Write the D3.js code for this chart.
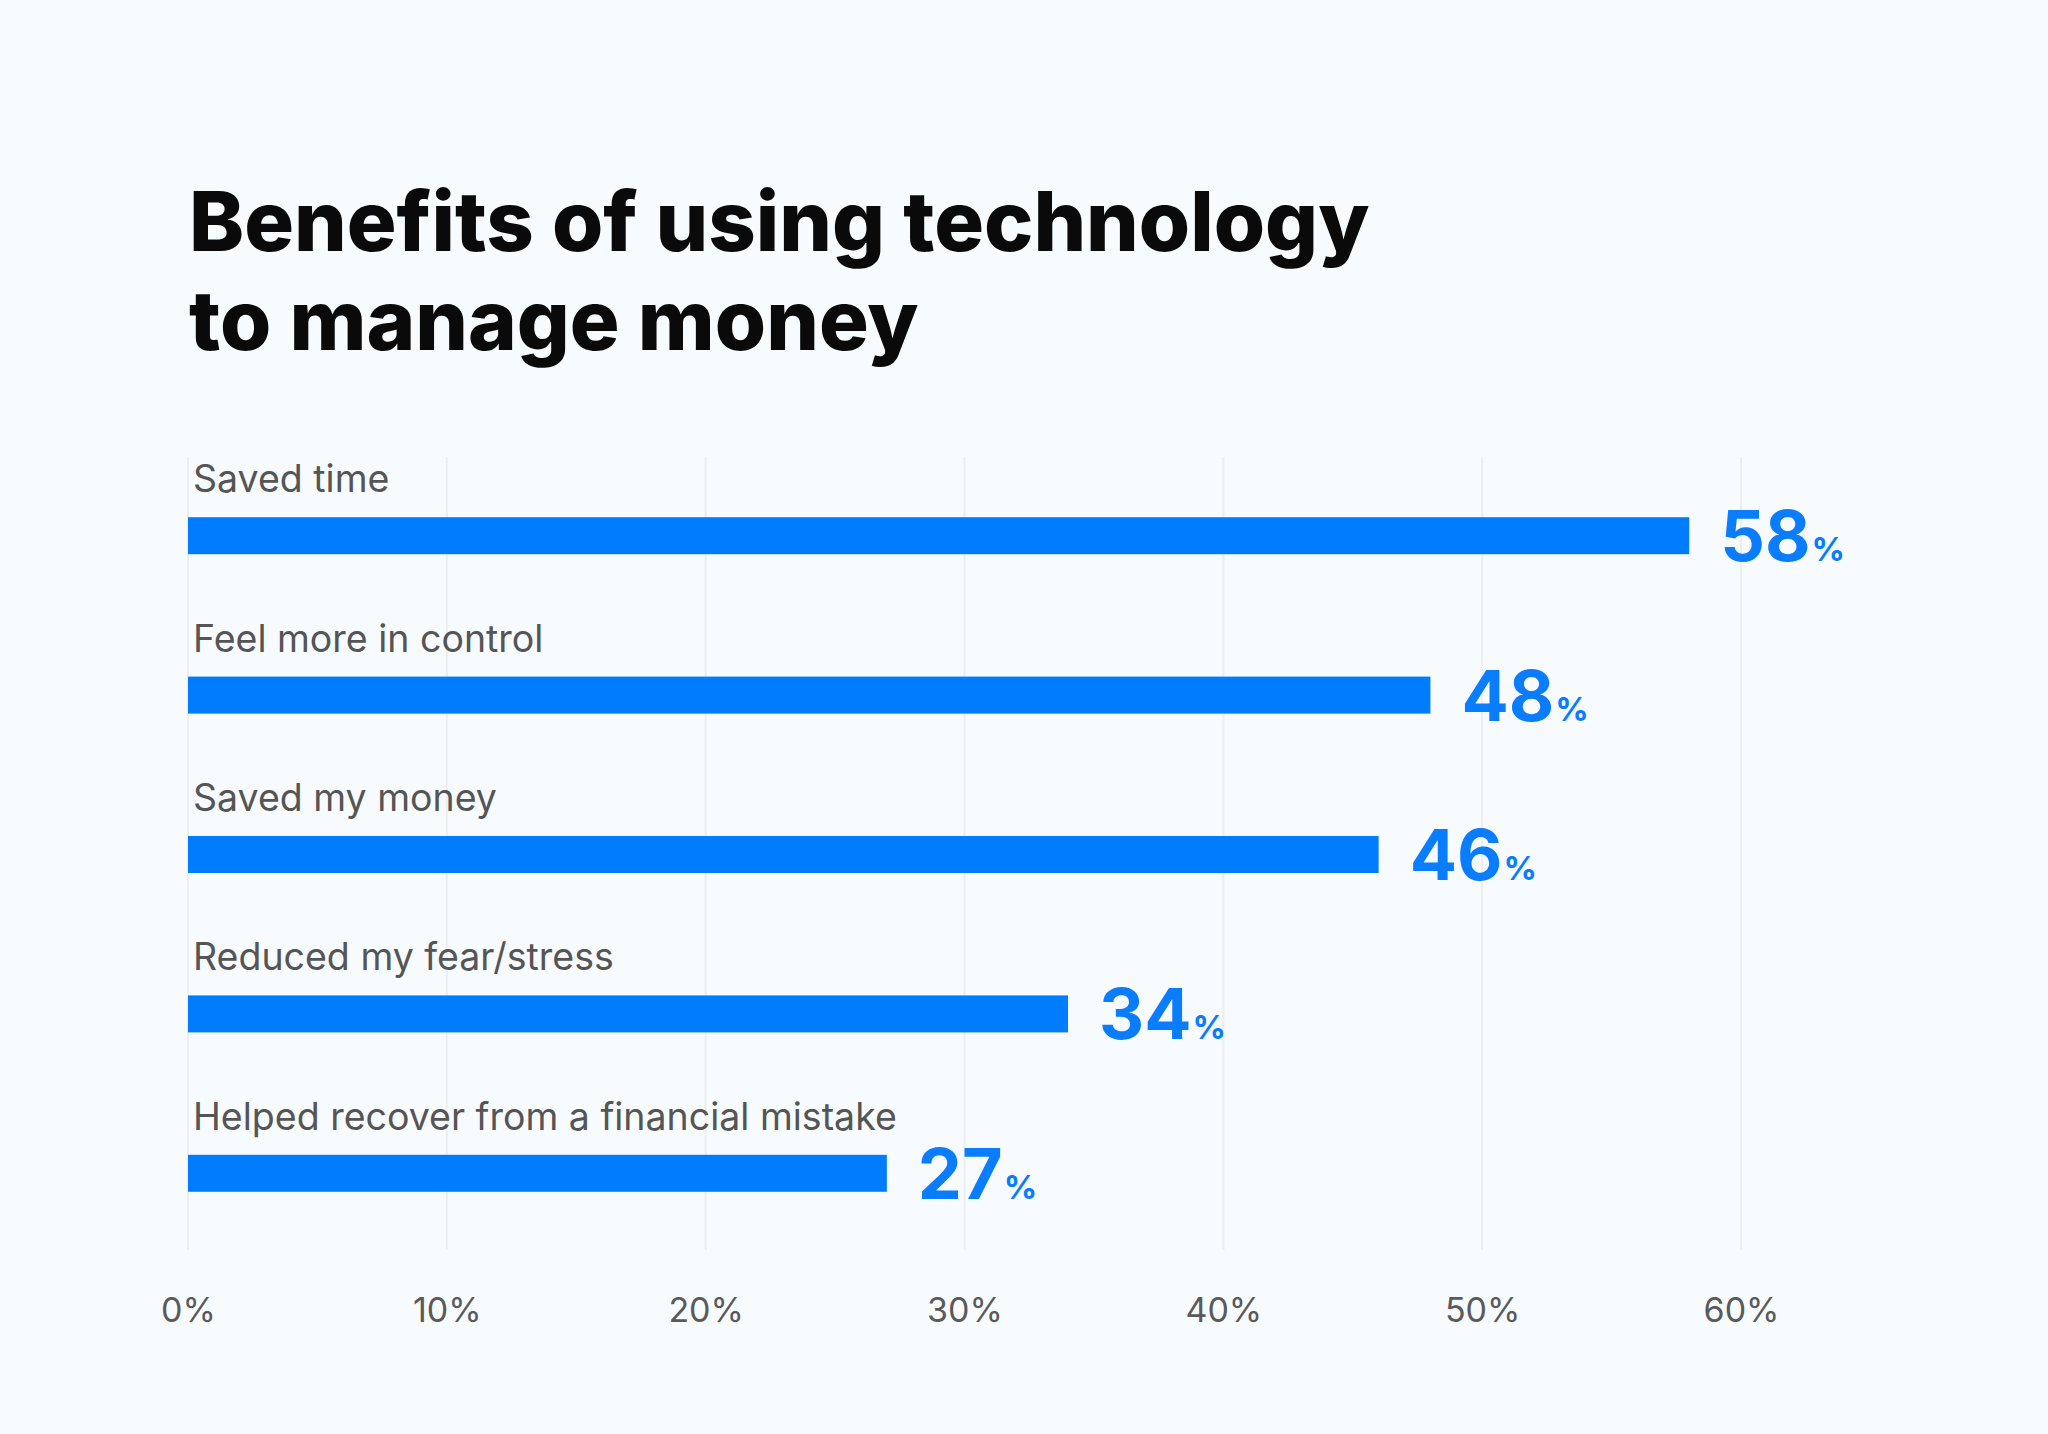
<!DOCTYPE html>
<html>
<head>
<meta charset="utf-8">
<script src="https://cdn.jsdelivr.net/npm/d3@7"></script>
<style>
  html, body { margin: 0; padding: 0; background: #f7fbfe; }
  svg { display: block; }
</style>
</head>
<body>
<svg id="chart" width="2048" height="1434"></svg>
<script>
const titleLines = ["Benefits of using technology", "to manage money"];
const categories = ["Saved time", "Feel more in control", "Saved my money", "Reduced my fear/stress", "Helped recover from a financial mistake"];
const values = [58, 48, 46, 34, 27];
const ticks = [0, 10, 20, 30, 40, 50, 60];

const svg = d3.select("#chart");
svg.append("rect").attr("width", 2048).attr("height", 1434).attr("fill", "#f7fbfe");

const x = d3.scaleLinear().domain([0, 60]).range([188, 1741]);
const y = d3.scaleBand().domain(categories).range([456, 1253]).paddingInner(0.768).paddingOuter(0.384);

// title
const title = svg.append("text")
  .attr("x", 189)
  .attr("font-family", "Inter, 'Noto Sans', sans-serif")
  .attr("font-weight", 800)
  .attr("font-size", 83)
  .attr("letter-spacing", 0)
  .attr("fill", "#0a0a0a");
title.selectAll("tspan").data(titleLines).join("tspan")
  .attr("x", 189)
  .attr("y", (d, i) => 251 + i * 99)
  .text(d => d);

// grid
svg.append("g").selectAll("line").data(ticks).join("line")
  .attr("x1", d => x(d)).attr("x2", d => x(d))
  .attr("y1", 457).attr("y2", 1250)
  .attr("stroke", "#eceef1").attr("stroke-width", 2);

// x axis
const axis = svg.append("g").attr("transform", "translate(0,1250)")
  .call(d3.axisBottom(x).tickValues(ticks).tickFormat(d => d + "%").tickSize(0).tickPadding(72));
axis.select(".domain").remove();
axis.selectAll("text")
  .attr("font-family", "Inter, 'Noto Sans', sans-serif")
  .attr("font-size", 34)
  .attr("fill", "#5a5a5a")
  .attr("dy", 0);

// bars
svg.append("g").selectAll("rect").data(categories).join("rect")
  .attr("x", x(0))
  .attr("y", d => y(d))
  .attr("width", (d, i) => x(values[i]) - x(0))
  .attr("height", y.bandwidth())
  .attr("fill", "#007cff");

// category labels
svg.append("g").selectAll("text").data(categories).join("text")
  .attr("x", x(0) + 5)
  .attr("y", d => y(d) - 25)
  .attr("font-family", "Inter, 'Noto Sans', sans-serif")
  .attr("font-size", 37.5)
  .attr("fill", "#555555")
  .text(d => d);

// value labels
const vl = svg.append("g").selectAll("text").data(categories).join("text")
  .attr("x", (d, i) => x(values[i]) + 31)
  .attr("y", d => y(d) + y.bandwidth() + 7)
  .attr("font-family", "Inter, 'Noto Sans', sans-serif")
  .attr("font-weight", 700)
  .attr("fill", "#0a7dff");
vl.append("tspan").attr("font-size", 70).text((d, i) => values[i]);
vl.append("tspan").attr("font-size", 33).attr("dx", 1).text("%");
</script>
</body>
</html>
